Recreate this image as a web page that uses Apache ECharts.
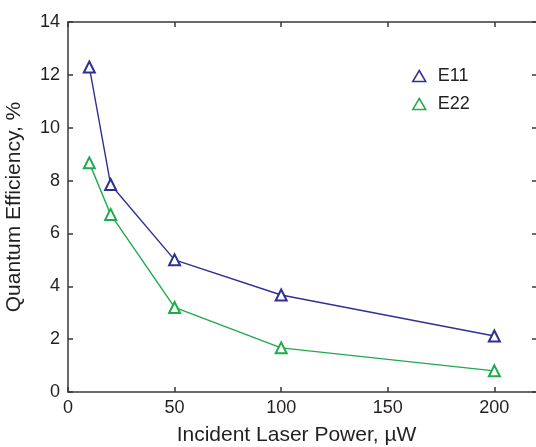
<!DOCTYPE html>
<html><head><meta charset="utf-8">
<script src="https://cdn.jsdelivr.net/npm/echarts@6/dist/echarts.min.js"></script>
<style>html,body{margin:0;padding:0;background:#fff}#c{width:536px;height:447px}</style>
</head><body><div id="c"></div>
<script>
var powers = [10, 20, 50, 100, 200];
var e11 = [12.3, 7.85, 5.0, 3.67, 2.12];
var e22 = [8.67, 6.72, 3.2, 1.67, 0.8];
var xTicks = [0, 50, 100, 150, 200];
var seriesNames = ['E11', 'E22'];
var colors = ['#2e3192', '#1faa4b'];

var font = 'Liberation Sans, Arial, sans-serif';
var axisColor = '#3a3a3a';
var textColor = '#231f20';
function pairs(xs, ys){ return xs.map(function(x,i){return [x, ys[i]];}); }

var chart = echarts.init(document.getElementById('c'), null, {renderer:'canvas'});
var axCommon = {
  axisLine:{show:true, onZero:false, lineStyle:{color:axisColor, width:1.5}},
  axisTick:{show:true, inside:true, length:5, lineStyle:{color:axisColor, width:1.5}},
  splitLine:{show:false}
};
chart.setOption({
  animation:false,
  grid:{left:68, top:22, width:469, bottom:55, containLabel:false, outerBoundsMode:'none'},
  legend:{
    data:seriesNames.map(function(n,i){return {name:n, icon:'triangle', itemStyle:{color:'rgba(255,255,255,0)', borderColor:colors[i], borderWidth:1.5}};}),
    orient:'vertical', left:407, top:62, itemWidth:13, itemHeight:11, itemGap:10,
    textStyle:{fontFamily:font, fontSize:18, color:textColor, padding:[0,0,0,7]}
  },
  xAxis:[
    Object.assign({}, axCommon, {
      type:'value', min:0, max:220, interval:50, position:'bottom',
      name:'Incident Laser Power, \u00b5W', nameLocation:'middle', nameGap:33,
      nameTextStyle:{fontFamily:font, fontSize:21, color:textColor, padding:[0,12,0,0]},
      axisLabel:{fontFamily:font, fontSize:18, color:textColor, margin:7,
        formatter:function(v){return xTicks.indexOf(v)>=0 ? String(v) : '';}}
    }),
    Object.assign({}, axCommon, {
      type:'value', min:0, max:220, interval:50, position:'top', axisLabel:{show:false}
    })
  ],
  yAxis:[
    Object.assign({}, axCommon, {
      type:'value', min:0, max:14, interval:2, position:'left',
      name:'Quantum Efficiency, %', nameLocation:'middle', nameGap:43,
      nameTextStyle:{fontFamily:font, fontSize:21, color:textColor},
      axisLabel:{fontFamily:font, fontSize:18, color:textColor, margin:8}
    }),
    Object.assign({}, axCommon, {
      type:'value', min:0, max:14, interval:2, position:'right', axisLabel:{show:false}
    })
  ],
  series:[
    {name:seriesNames[0], type:'line', data:pairs(powers, e11), symbol:'emptyTriangle', symbolSize:11,
     lineStyle:{color:colors[0], width:1.4}, itemStyle:{color:colors[0], borderColor:colors[0], borderWidth:1.4}},
    {name:seriesNames[1], type:'line', data:pairs(powers, e22), symbol:'emptyTriangle', symbolSize:11,
     lineStyle:{color:colors[1], width:1.4}, itemStyle:{color:colors[1], borderColor:colors[1], borderWidth:1.4}}
  ]
});
</script></body></html>
